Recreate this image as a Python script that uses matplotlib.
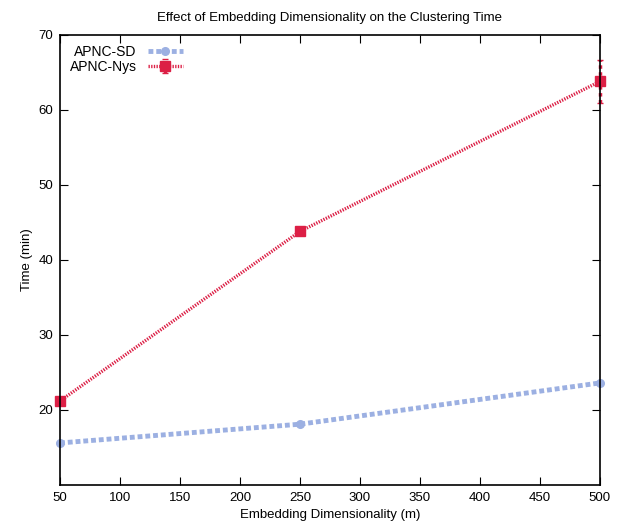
import matplotlib.pyplot as plt

plt.rcParams['font.family'] = ['Liberation Sans', 'DejaVu Sans']

dims = [50, 250, 500]
sd_time = [15.6, 18.1, 23.6]
nys_time = [21.2, 43.8, 63.8]
nys_err = [0, 0, 2.9]

fig = plt.figure(figsize=(6.19, 5.22), dpi=100)
ax = fig.add_axes([0.097, 0.071, 0.872, 0.862])

ax.plot(dims, sd_time, color='#9cb0e2', lw=3.5, linestyle=(0, (1, 0.6)),
        marker='o', markersize=5.5, label='APNC-SD', clip_on=False)
eb = ax.errorbar(dims, nys_time, yerr=nys_err, color='#dc1f45', lw=2.4,
                 linestyle=(0, (0.4, 0.4)), marker='s', markersize=7,
                 elinewidth=2.5, capsize=2, label='APNC-Nys')
for art in eb.get_children():
    art.set_clip_on(False)
for ln in eb.lines[2]:
    ln.set_linestyle((0, (1, 1)))

ax.set_xlim(50, 500)
ax.set_ylim(10, 70)
ax.set_xticks(range(50, 501, 50))
ax.set_yticks(range(20, 71, 10))
ax.tick_params(direction='in', top=True, right=True, labelsize=9.5, length=6, pad=5)
for s in ax.spines.values():
    s.set_linewidth(1.2)

ax.set_xlabel('Embedding Dimensionality (m)', fontsize=9.5)
ax.set_ylabel('Time (min)', fontsize=9.5)
ax.set_title('Effect of Embedding Dimensionality on the Clustering Time', fontsize=9.5, pad=10)

ax.legend(loc='upper left', markerfirst=False, frameon=False, fontsize=10,
          handlelength=2.5, borderaxespad=0.3, labelspacing=0.1)

fig.savefig('out.png', dpi=100)
